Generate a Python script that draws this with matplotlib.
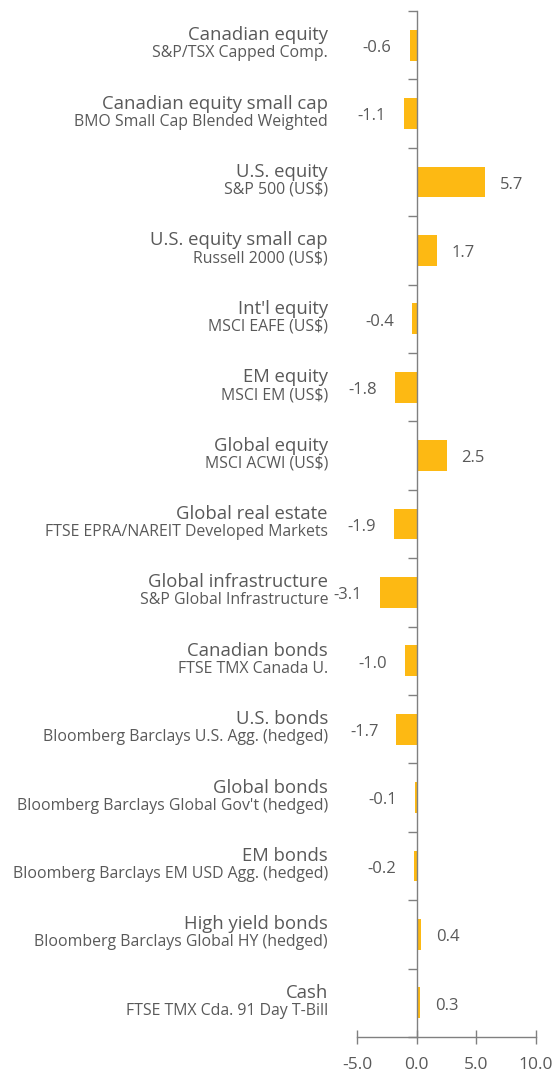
import matplotlib
matplotlib.use("Agg")
import matplotlib.pyplot as plt

categories = ["Canadian equity", "Canadian equity small cap", "U.S. equity",
              "U.S. equity small cap", "Int'l equity", "EM equity", "Global equity",
              "Global real estate", "Global infrastructure", "Canadian bonds",
              "U.S. bonds", "Global bonds", "EM bonds", "High yield bonds", "Cash"]
indices = ["S&P/TSX Capped Comp.", "BMO Small Cap Blended Weighted", "S&P 500 (US$)",
           "Russell 2000 (US$)", "MSCI EAFE (US$)", "MSCI EM (US$)", "MSCI ACWI (US$)",
           "FTSE EPRA/NAREIT Developed Markets", "S&P Global Infrastructure",
           "FTSE TMX Canada U.", "Bloomberg Barclays U.S. Agg. (hedged)",
           "Bloomberg Barclays Global Gov't (hedged)", "Bloomberg Barclays EM USD Agg. (hedged)",
           "Bloomberg Barclays Global HY (hedged)", "FTSE TMX Cda. 91 Day T-Bill"]
values = [-0.6, -1.1, 5.7, 1.7, -0.4, -1.8, 2.5, -1.9, -3.1, -1.0, -1.7, -0.1, -0.2, 0.4, 0.3]
xticks = [-5.0, 0.0, 5.0, 10.0]
xtick_labels = ["-5.0", "0.0", "5.0", "10.0"]

W, H = 556, 1072
fig = plt.figure(figsize=(W / 100, H / 100), dpi=100)
left_px, right_px, top_px, bot_px = 357, 536, 11, 1037
ax = fig.add_axes([left_px / W, (H - bot_px) / H, (right_px - left_px) / W, (bot_px - top_px) / H])

FONT = "Open Sans"
GRAY = "#595959"
AX = "#808080"
BAR = "#FDB913"
PX = 0.72  # points per pixel

ypos = list(range(len(categories)))
ax.barh(ypos, values, height=0.45, color=BAR, zorder=2)
ax.set_xlim(-5, 10)
ax.set_ylim(len(categories) - 0.5, -0.5)

for s in ["top", "right"]:
    ax.spines[s].set_visible(False)
ax.spines["left"].set_position(("data", 0))
for s in ["left", "bottom"]:
    ax.spines[s].set_color(AX)
    ax.spines[s].set_linewidth(1.0)

ax.set_yticks([i - 0.5 for i in range(len(categories) + 1)])
ax.set_yticklabels([])
ax.tick_params(axis="y", direction="out", length=6.5, color=AX, width=1.0)
ax.set_xticks(xticks)
ax.set_xticklabels(xtick_labels, fontfamily=FONT, fontsize=12.5, color=GRAY)
ax.tick_params(axis="x", direction="inout", length=10, color=AX, width=1.0, pad=9.5)

label_x = 328 - left_px  # pixel offset from axes left
for i, (c, sub, v) in enumerate(zip(categories, indices, values)):
    ax.annotate(c, xy=(0, i), xycoords=("axes fraction", "data"),
                xytext=(label_x * PX, 5 * PX), textcoords="offset points",
                ha="right", va="baseline", fontfamily=FONT, fontsize=13.3, color=GRAY)
    ax.annotate(sub, xy=(0, i), xycoords=("axes fraction", "data"),
                xytext=(label_x * PX, -12 * PX), textcoords="offset points",
                ha="right", va="baseline", fontfamily=FONT, fontsize=11.4, color=GRAY)
    off = 15 * PX if v > 0 else -18 * PX
    ax.annotate(f"{v:.1f}", xy=(v, i), xytext=(off, -2), textcoords="offset points",
                ha="left" if v > 0 else "right", va="center",
                fontfamily=FONT, fontsize=12, color=GRAY)

fig.savefig("out.png", dpi=100)
